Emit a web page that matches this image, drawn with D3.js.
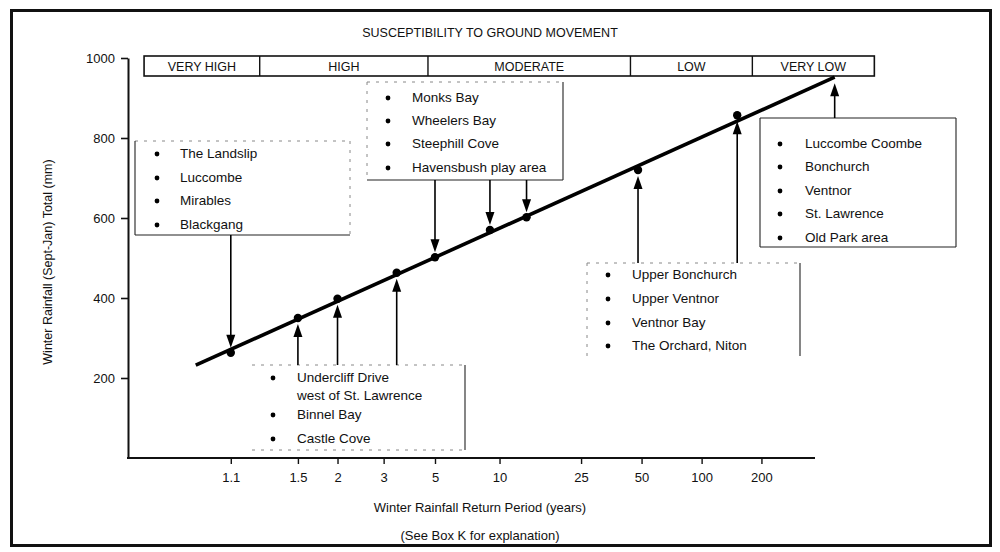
<!DOCTYPE html>
<html>
<head>
<meta charset="utf-8">
<script src="https://cdn.jsdelivr.net/npm/d3@7"></script>
<style>
body { margin: 0; background: #fff; }
svg { display: block; font-family: "Liberation Sans", Arial, Helvetica, sans-serif; }
</style>
</head>
<body>
<svg width="1000" height="552"></svg>
<script>
// x axis: winter rainfall return period (years), y axis: rainfall total (mm)
const xTicks = [1.1, 1.5, 2, 3, 5, 10, 25, 50, 100, 200];
const yTicks = [200, 400, 600, 800, 1000];

// fitted line, end points (return period, mm)
const lineT = [1.028, 468];
const lineMm = [232, 952];

// plotted sites on the line
const pointT = [1.1, 1.5, 2, 3.4, 5, 9, 13.5, 48, 151];
const pointMm = [263, 350, 398, 463, 502, 570, 602, 720, 857];

// susceptibility band across the top
const bandLabels = ["VERY HIGH", "HIGH", "MODERATE", "LOW", "VERY LOW"];
const bandEdgesT = [1.0014, 1.22, 4.65, 44, 180, 742];
const bandMm = [955, 1005];

// site groups and the return periods their arrows point at
const groupNames = [
  ["The Landslip", "Luccombe", "Mirables", "Blackgang"],
  ["Monks Bay", "Wheelers Bay", "Steephill Cove", "Havensbush play area"],
  ["Undercliff Drive|west of St. Lawrence", "Binnel Bay", "Castle Cove"],
  ["Upper Bonchurch", "Upper Ventnor", "Ventnor Bay", "The Orchard, Niton"],
  ["Luccombe Coombe", "Bonchurch", "Ventnor", "St. Lawrence", "Old Park area"]
];
const groupArrowT = [[1.1], [5, 9, 13.5], [1.5, 2, 3.4], [48, 151], [468]];

// layout of the label boxes (pixels)
const boxLayout = [
  { x0: 135, y0: 141, x1: 350, y1: 235, bx: 157, tx: 180, rows: [153, 177, 200, 224], from: "bottom",
    edges: { top: "faint", right: "faint", bottom: "solid", left: "solid" } },
  { x0: 367, y0: 82, x1: 563, y1: 180, bx: 388, tx: 412, rows: [97, 120, 143, 167], from: "bottom",
    edges: { top: "faint", right: "solid", bottom: "solid", left: "faint" } },
  { x0: 252, y0: 365, x1: 465, y1: 450, bx: 273, tx: 297, rows: [377, 395, 414, 438], from: "top",
    edges: { top: "faint", right: "solid", bottom: "faint", left: "none" } },
  { x0: 587, y0: 263, x1: 800, y1: 356, bx: 608, tx: 632, rows: [274, 298, 322, 345], from: "top",
    edges: { top: "faint", right: "solid", bottom: "none", left: "faint" } },
  { x0: 760, y0: 118, x1: 956, y1: 247, bx: 780, tx: 805, rows: [143, 166, 190, 213, 237], from: "top",
    edges: { top: "solid", right: "solid", bottom: "solid", left: "solid" } }
];

const svg = d3.select("svg");

// Gumbel reduced variate for a return period
function gumbel(T) {
  return -Math.log(-Math.log(1 - 1 / T));
}

const xLin = d3.scaleLinear().domain([0, 5]).range([306, 736]);
const x = T => xLin(gumbel(T));
const y = d3.scaleLinear().domain([0, 1000]).range([458, 58]);

const axisLeftX = 128, axisRightX = 815;

/* outer frame */
svg.append("rect")
  .attr("x", 11.5).attr("y", 10.5)
  .attr("width", 979).attr("height", 535)
  .attr("fill", "none").attr("stroke", "#111").attr("stroke-width", 3);

/* title */
svg.append("text")
  .attr("x", 490).attr("y", 37)
  .attr("text-anchor", "middle")
  .style("font-size", "12.5px")
  .attr("fill", "#111")
  .text("SUSCEPTIBILITY TO GROUND MOVEMENT");

/* susceptibility band */
const band = svg.append("g");
band.append("rect")
  .attr("x", x(bandEdgesT[0]))
  .attr("y", y(bandMm[1]))
  .attr("width", x(bandEdgesT[bandEdgesT.length - 1]) - x(bandEdgesT[0]))
  .attr("height", y(bandMm[0]) - y(bandMm[1]))
  .attr("fill", "#fff").attr("stroke", "#111").attr("stroke-width", 1.6);

for (var i = 1; i < bandEdgesT.length - 1; i++) {
  band.append("line")
    .attr("x1", x(bandEdgesT[i])).attr("x2", x(bandEdgesT[i]))
    .attr("y1", y(bandMm[1])).attr("y2", y(bandMm[0]))
    .attr("stroke", "#111").attr("stroke-width", 1.4);
}
bandLabels.forEach(function(lab, i) {
  band.append("text")
    .attr("x", (x(bandEdgesT[i]) + x(bandEdgesT[i + 1])) / 2)
    .attr("y", (y(bandMm[0]) + y(bandMm[1])) / 2)
    .attr("dy", "0.36em")
    .attr("text-anchor", "middle")
    .style("font-size", "12.5px")
    .attr("fill", "#111")
    .text(lab);
});

/* y axis */
const yAxis = d3.axisLeft(y).tickValues(yTicks).tickFormat(d3.format("d"))
  .tickSize(7).tickSizeOuter(0).tickPadding(6);
const gy = svg.append("g").attr("transform", `translate(${axisLeftX},0)`).call(yAxis);
gy.select(".domain").attr("stroke", "#111").attr("stroke-width", 2);
gy.selectAll(".tick line").attr("stroke", "#111").attr("stroke-width", 1.6);
gy.selectAll(".tick text").style("font-size", "13px").attr("fill", "#111").attr("font-family", null);

/* x axis */
const xAxis = d3.axisBottom(xLin)
  .tickValues(xTicks.map(gumbel))
  .tickFormat((d, i) => xTicks[i])
  .tickSize(6).tickSizeOuter(0).tickPadding(9);
const gx = svg.append("g").attr("transform", `translate(0,${y(0)})`).call(xAxis);
gx.select(".domain").remove();
gx.append("line")
  .attr("x1", axisLeftX - 1).attr("x2", axisRightX)
  .attr("stroke", "#111").attr("stroke-width", 2);
gx.selectAll(".tick line").attr("stroke", "#111").attr("stroke-width", 1.4);
gx.selectAll(".tick text").style("font-size", "13px").attr("fill", "#111").attr("font-family", null);

/* axis titles */
svg.append("text")
  .attr("transform", "translate(52,262) rotate(-90)")
  .attr("text-anchor", "middle")
  .style("font-size", "12.5px")
  .attr("fill", "#111")
  .text("Winter Rainfall (Sept-Jan) Total (mm)");

svg.append("text")
  .attr("x", 480).attr("y", 512)
  .attr("text-anchor", "middle")
  .style("font-size", "13px")
  .attr("fill", "#111")
  .text("Winter Rainfall Return Period (years)");

svg.append("text")
  .attr("x", 480).attr("y", 540)
  .attr("text-anchor", "middle")
  .style("font-size", "13px")
  .attr("fill", "#111")
  .text("(See Box K for explanation)");

/* fitted line */
const lineData = lineT.map((t, i) => ({ t: t, mm: lineMm[i] }));
const lineGenerator = d3.line()
  .x(d => x(d.t))
  .y(d => y(d.mm));
svg.append("path")
  .attr("d", lineGenerator(lineData))
  .attr("fill", "none")
  .attr("stroke", "#000")
  .attr("stroke-width", 3.6);

/* site points */
svg.append("g").selectAll("circle")
  .data(pointT)
  .join("circle")
  .attr("cx", d => x(d))
  .attr("cy", (d, i) => y(pointMm[i]))
  .attr("r", 4.2)
  .attr("fill", "#000");

// rainfall value on the fitted line or at a plotted site
function valueAt(T) {
  const k = pointT.indexOf(T);
  if (k >= 0) return pointMm[k];
  const g0 = gumbel(lineT[0]), g1 = gumbel(lineT[1]);
  return lineMm[0] + (gumbel(T) - g0) / (g1 - g0) * (lineMm[1] - lineMm[0]);
}

/* boxes, labels and arrows */
const edgeStyle = {
  solid: { stroke: "#222", width: 1.1, dash: null },
  faint: { stroke: "#888", width: 1, dash: "3,6" }
};

boxLayout.forEach(function(b, gi) {
  const g = svg.append("g");
  const edges = {
    top: [b.x0, b.y0, b.x1, b.y0],
    right: [b.x1, b.y0, b.x1, b.y1],
    bottom: [b.x0, b.y1, b.x1, b.y1],
    left: [b.x0, b.y0, b.x0, b.y1]
  };
  Object.keys(edges).forEach(function(k) {
    const st = edgeStyle[b.edges[k]];
    if (!st) return;
    const e = edges[k];
    g.append("line")
      .attr("x1", e[0]).attr("y1", e[1]).attr("x2", e[2]).attr("y2", e[3])
      .attr("stroke", st.stroke).attr("stroke-width", st.width)
      .attr("stroke-dasharray", st.dash);
  });

  // rows of names
  var r = 0;
  groupNames[gi].forEach(function(name) {
    const parts = name.split("|");
    g.append("circle")
      .attr("cx", b.bx).attr("cy", b.rows[r] + 1)
      .attr("r", 2.4).attr("fill", "#000");
    parts.forEach(function(p) {
      g.append("text")
        .attr("x", b.tx).attr("y", b.rows[r])
        .attr("dy", "0.35em")
        .style("font-size", "13.5px")
        .attr("fill", "#111")
        .text(p);
      r++;
    });
  });

  // arrows
  groupArrowT[gi].forEach(function(T) {
    const ax = x(T);
    const down = b.from === "bottom";
    const y0 = down ? b.y1 : b.y0;
    const yt = y(valueAt(T)) + (down ? -5 : 6);
    g.append("line")
      .attr("x1", ax).attr("x2", ax)
      .attr("y1", y0).attr("y2", yt + (down ? -8 : 8))
      .attr("stroke", "#000").attr("stroke-width", 1.6);
    const dir = down ? -1 : 1;
    g.append("path")
      .attr("d", `M${ax},${yt} L${ax - 4.5},${yt + dir * 13} L${ax + 4.5},${yt + dir * 13} Z`)
      .attr("fill", "#000");
  });
});
</script>
</body>
</html>
